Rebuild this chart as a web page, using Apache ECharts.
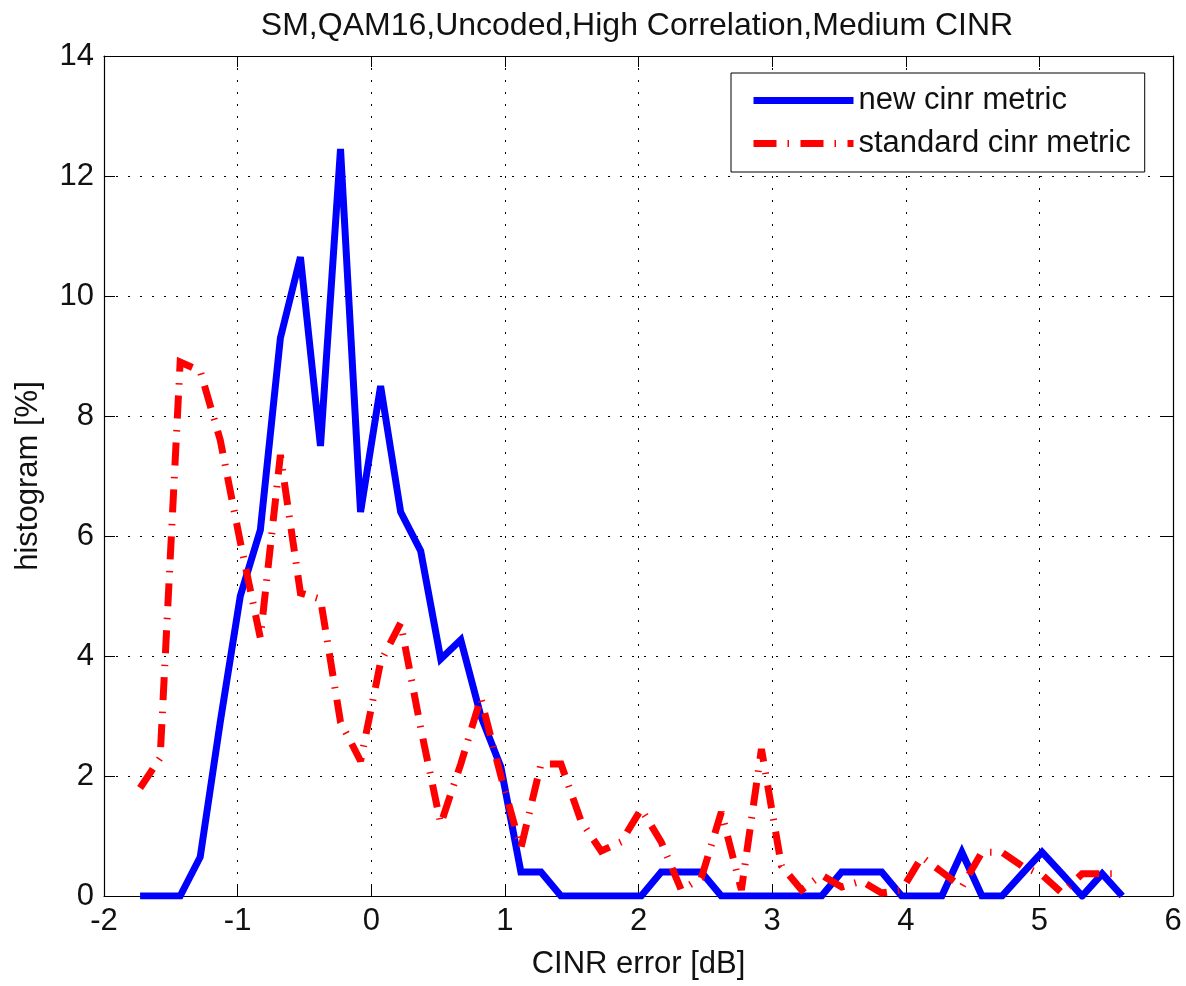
<!DOCTYPE html>
<html>
<head>
<meta charset="utf-8">
<script src="https://cdn.jsdelivr.net/npm/echarts@6/dist/echarts.min.js"></script>
<style>
html,body{margin:0;padding:0;background:#fff;}
#chart{width:1186px;height:986px;}
</style>
</head>
<body>
<div id="chart"></div>
<script>
// CINR error bin centres [dB]
var cinrError = [-1.73,-1.58,-1.43,-1.28,-1.13,-0.98,-0.83,-0.68,-0.53,-0.38,
  -0.23,-0.08,0.07,0.22,0.37,0.52,0.67,0.82,0.97,1.12,
  1.27,1.42,1.57,1.72,1.87,2.02,2.17,2.32,2.47,2.62,
  2.77,2.92,3.07,3.22,3.37,3.52,3.67,3.82,3.97,4.12,
  4.27,4.42,4.57,4.72,4.87,5.02,5.17,5.32,5.47,5.62];
// histogram [%] - new cinr metric
var newMetric = [0,0,0,0.65,2.9,5.0,6.1,9.3,10.65,7.5,
  12.45,6.4,8.5,6.4,5.75,3.95,4.27,3.0,2.15,0.4,
  0.4,0,0,0,0,0,0.4,0.4,0.4,0,
  0,0,0,0,0,0.4,0.4,0.4,0,0,
  0,0.73,0,0,0.37,0.73,0.37,0,0.37,0];
// histogram [%] - standard cinr metric
var stdMetric = [1.8,2.3,8.9,8.75,7.6,5.9,4.3,7.35,5.05,4.95,
  2.9,2.25,3.9,4.55,2.8,1.2,2.2,3.3,2.0,0.8,
  2.2,2.2,1.25,0.75,0.9,1.45,0.9,0.1,0.3,1.4,
  0.1,2.45,0.5,0.1,0.35,0.15,0.25,0.05,0.1,0.65,
  0.4,0.15,0.73,0.73,0.5,0.35,0.05,0.37,0.37,0.37];
var seriesNames = ['new cinr metric','standard cinr metric'];
var titleText = 'SM,QAM16,Uncoded,High Correlation,Medium CINR';
var xName = 'CINR error [dB]';
var yName = 'histogram [%]';

function pairs(xs, ys){ return xs.map(function(x,i){ return [x, ys[i]]; }); }

var FONT = 'Liberation Sans';
var FS = 31;
var chart = echarts.init(document.getElementById('chart'), null, {renderer:'canvas'});
var gridLine = {show:true, lineStyle:{color:'#000', width:1, type:[2,10]}};
var tick = {show:true, inside:true, length:11, lineStyle:{color:'#000', width:1}};
var axLine = {show:true, onZero:false, lineStyle:{color:'#000', width:1.2}};
chart.setOption({
  animation:false,
  backgroundColor:'#fff',
  title:{text:titleText, left:632, top:5, textAlign:'center',
    textStyle:{fontFamily:FONT, fontSize:32, fontWeight:'normal', color:'#111'}},
  grid:{left:104, right:13, top:56, bottom:90, containLabel:false},
  legend:{orient:'vertical', left:731, top:73, padding:[12,14,13,19], itemGap:12,
    itemWidth:100, itemHeight:14, backgroundColor:'#fff', borderColor:'#000', borderWidth:1,
    borderRadius:0,
    itemStyle:{color:'rgba(0,0,0,0)', borderWidth:0, opacity:0},
    lineStyle:{width:'inherit'},
    textStyle:{fontFamily:FONT, fontSize:FS, color:'#111', lineHeight:30, padding:[0,0,0,0]},
    data:seriesNames},
  xAxis:[
    {type:'value', min:-2, max:6, interval:1, position:'bottom',
     axisLine:axLine, axisTick:tick, splitLine:gridLine,
     axisLabel:{fontFamily:FONT, fontSize:FS, color:'#111', margin:10},
     name:xName, nameLocation:'middle', nameGap:53,
     nameTextStyle:{fontFamily:FONT, fontSize:FS, color:'#111'}},
    {type:'value', min:-2, max:6, interval:1, position:'top',
     axisLine:axLine, axisTick:tick, splitLine:{show:false}, axisLabel:{show:false}}
  ],
  yAxis:[
    {type:'value', min:0, max:14, interval:2, position:'left',
     axisLine:axLine, axisTick:tick, splitLine:gridLine,
     axisLabel:{fontFamily:FONT, fontSize:FS, color:'#111', margin:10},
     name:yName, nameLocation:'middle', nameGap:60,
     nameTextStyle:{fontFamily:FONT, fontSize:FS, color:'#111'}},
    {type:'value', min:0, max:14, interval:2, position:'right',
     axisLine:axLine, axisTick:tick, splitLine:{show:false}, axisLabel:{show:false}}
  ],
  series:[
    {name:seriesNames[0], type:'line', xAxisIndex:0, yAxisIndex:0,
     data:pairs(cinrError,newMetric), symbol:'none', showSymbol:false, smooth:false,
     lineStyle:{color:'#0000ff', width:7, type:'solid', join:'miter', miterLimit:3},
     itemStyle:{color:'#0000ff'}},
    {name:seriesNames[1], type:'line', xAxisIndex:0, yAxisIndex:0,
     data:pairs(cinrError,stdMetric), symbol:'none', showSymbol:false, smooth:false,
     lineStyle:{color:'#ff0000', width:7, type:[23,11,1.5,11.5], cap:'butt', join:'miter', miterLimit:3},
     itemStyle:{color:'#ff0000'}}
  ]
});
</script>
</body>
</html>
